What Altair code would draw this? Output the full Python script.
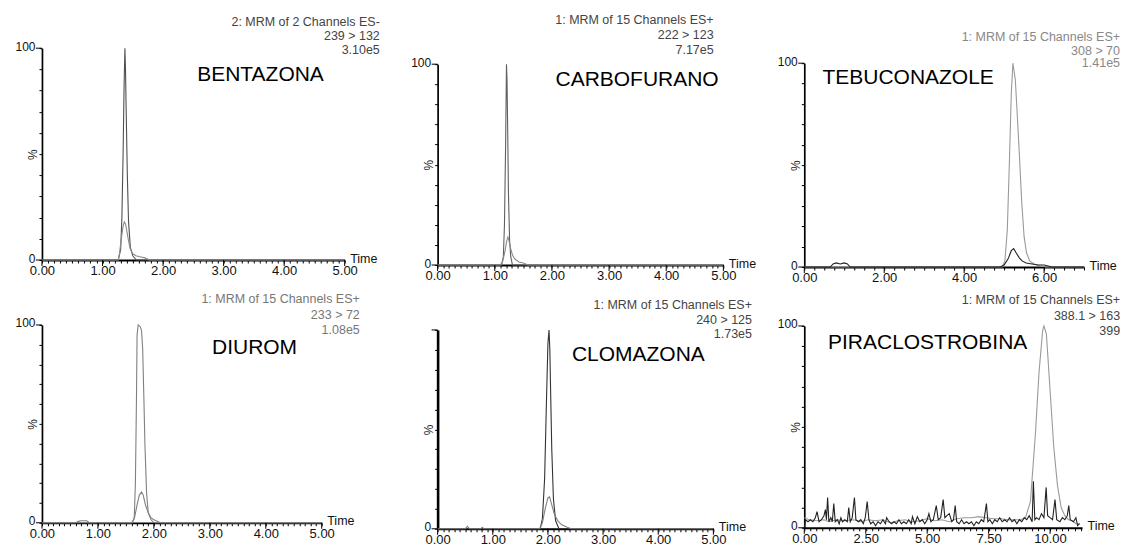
import altair as alt
import pandas as pd

FONT = "Liberation Sans"

# ---------------- BENTAZONA (239 > 132) ----------------
bent_t_a = [0, 1.26, 1.30, 1.32, 1.34, 1.355, 1.37, 1.38, 1.39, 1.41, 1.43, 1.46, 1.50, 1.56, 5.0]
bent_i_a = [0, 0, 5, 20, 50, 80, 100, 90, 72, 40, 18, 6, 2, 0, 0]
bent_t_b = [0, 1.26, 1.28, 1.31, 1.34, 1.36, 1.38, 1.40, 1.43, 1.46, 1.50, 1.55, 1.62, 1.70, 1.78, 5.0]
bent_i_b = [0, 0, 3, 10, 16, 18, 17, 14, 9, 5, 3, 2, 1.5, 1, 0, 0]
bent_major = [0, 1, 2, 3, 4, 5]

# ---------------- CARBOFURANO (222 > 123) ----------------
carb_t_a = [0, 1.12, 1.15, 1.17, 1.19, 1.205, 1.215, 1.225, 1.24, 1.26, 1.28, 1.31, 5.0]
carb_i_a = [0, 0, 4, 20, 60, 100, 92, 70, 35, 12, 4, 0, 0]
carb_t_b = [0, 1.10, 1.14, 1.18, 1.21, 1.23, 1.25, 1.28, 1.31, 1.35, 1.42, 1.50, 1.58, 5.0]
carb_i_b = [0, 0, 2, 7, 12, 14, 12, 8, 5, 3, 1.5, 1, 0, 0]
carb_major = [0, 1, 2, 3, 4, 5]

# ---------------- TEBUCONAZOLE (308 > 70) ----------------
tebu_t_a = [0, 4.95, 5.02, 5.08, 5.13, 5.18, 5.22, 5.25, 5.28, 5.32, 5.38, 5.44, 5.50, 5.56, 5.64, 5.75, 5.90, 6.05, 7.0]
tebu_i_a = [0, 0, 3, 18, 50, 85, 100, 96, 92, 78, 56, 32, 15, 7, 3, 1.5, 0.5, 0, 0]
tebu_t_b = [0, 0.65, 0.72, 0.80, 0.90, 1.00, 1.08, 1.15, 4.90, 5.00, 5.10, 5.18, 5.24, 5.30, 5.38, 5.45,
            5.55, 5.70, 5.85, 6.00, 6.10, 6.20, 7.0]
tebu_i_b = [0, 0, 1.5, 2, 1.5, 2, 1.5, 0, 0, 1, 4, 8, 9, 7, 4.5, 3, 2, 1.5, 1, 1, 0.5, 0, 0]
tebu_major = [0, 2, 4, 6]

# ---------------- DIUROM (233 > 72) ----------------
diur_t_a = [0, 1.62, 1.65, 1.67, 1.69, 1.70, 1.72, 1.76, 1.78, 1.80, 1.82, 1.84, 1.87, 1.90, 1.95, 2.00, 5.0]
diur_i_a = [0, 0, 3, 20, 65, 95, 100, 99, 97, 88, 65, 40, 15, 5, 1.5, 0, 0]
diur_t_b = [0, 0.60, 0.65, 0.70, 0.80, 0.85, 1.60, 1.65, 1.70, 1.74, 1.78, 1.81, 1.85, 1.90, 1.95, 2.00,
            2.06, 2.12, 5.0]
diur_i_b = [0, 0, 0.7, 1, 1, 0, 0, 2, 9, 14, 15.5, 14, 9, 5, 2.5, 1.5, 0.8, 0, 0]
diur_major = [0, 1, 2, 3, 4, 5]

# ---------------- CLOMAZONA (240 > 125) ----------------
clom_t_a = [0, 1.86, 1.90, 1.94, 1.97, 2.00, 2.02, 2.035, 2.05, 2.07, 2.10, 2.14, 2.20, 5.0]
clom_i_a = [0, 0, 5, 25, 60, 93, 100, 90, 68, 40, 15, 4, 0, 0]
clom_t_b = [0, 0.50, 0.54, 0.58, 0.78, 0.81, 0.84, 1.85, 1.90, 1.95, 2.00, 2.03, 2.07, 2.12, 2.18, 2.25,
            2.33, 2.42, 5.0]
clom_i_b = [0, 0, 1.2, 0, 0, 0.8, 0, 0, 3, 10, 15.5, 16, 12, 7, 4, 2, 1, 0, 0]
clom_major = [0, 1, 2, 3, 4, 5]

# ---------------- PIRACLOSTROBINA (388.1 > 163) ----------------
pira_t_a = [0.0, 0.2, 0.5, 0.8, 1.0, 1.3, 1.6, 2.0, 2.3, 2.6, 2.9, 3.2, 3.5, 3.8, 4.1, 4.4, 4.7, 5.0,
            5.3, 5.6, 5.9, 6.2, 6.5, 6.8, 7.1, 7.4, 7.7, 8.0, 8.3, 8.6, 8.8, 9.0, 9.2, 9.4, 9.55,
            9.7, 9.75, 9.85, 10.0, 10.15, 10.3, 10.45, 10.6, 10.75, 10.9, 11.05, 11.2]
pira_i_a = [5, 4, 3.5, 4, 3, 4, 3.5, 4, 3, 4, 3.5, 4, 2.5, 3.5, 4, 3, 3.5, 4.5,
            3.5, 4, 3, 4.5, 5, 5, 5.5, 5, 4.5, 4.5, 4, 4, 4, 5, 13, 46, 77,
            98, 100, 96, 68, 40, 21, 10, 6, 4, 3.5, 2, 2]
pira_t_b = [0.00, 0.05, 0.15, 0.25, 0.35, 0.45, 0.52, 0.60, 0.70, 0.80, 0.86, 0.90, 0.95, 1.00, 1.08,
            1.14, 1.20, 1.26, 1.35, 1.42, 1.49, 1.55, 1.65, 1.75, 1.81, 1.87, 1.95, 2.04, 2.10, 2.20,
            2.30, 2.40, 2.48, 2.56, 2.63, 2.70, 2.80, 2.90, 3.00, 3.10, 3.20, 3.30, 3.35, 3.45, 3.55,
            3.65, 3.75, 3.85, 3.95, 4.05, 4.15, 4.25, 4.35, 4.40, 4.50, 4.60, 4.70, 4.80, 4.90, 5.00,
            5.07, 5.15, 5.25, 5.37, 5.45, 5.55, 5.65, 5.72, 5.80, 5.90, 6.00, 6.07, 6.14, 6.20, 6.30,
            6.40, 6.50, 6.60, 6.70, 6.80, 6.90, 7.00, 7.10, 7.20, 7.30, 7.41, 7.47, 7.55, 7.65, 7.75,
            7.85, 7.95, 8.05, 8.15, 8.25, 8.35, 8.45, 8.55, 8.65, 8.75, 8.85, 8.95, 9.05, 9.15, 9.27,
            9.32, 9.38, 9.45, 9.55, 9.65, 9.75, 9.84, 9.90, 10.00, 10.10, 10.20, 10.27, 10.40, 10.50,
            10.60, 10.70, 10.76, 10.82, 10.95, 11.05, 11.12, 11.20]
pira_i_b = [0, 4, 3, 4, 3, 5, 8, 3, 4, 6, 9, 4, 15, 3, 5,
            3, 12, 3, 4, 2, 5, 3, 4, 3, 10, 3, 5, 15, 4, 3,
            4, 2, 5, 13, 4, 2, 3, 1, 3, 2, 4, 2, 5, 3, 2,
            3, 2, 4, 2, 3, 2, 4, 2, 5.5, 2, 5.5, 3, 4, 2, 4,
            7, 3, 4, 11, 4, 5, 14, 5, 6, 7, 3, 4, 11, 3, 2,
            4, 2, 3, 2, 3, 1, 3, 2, 4, 3, 12, 3, 4, 2, 4,
            3, 5, 3, 4, 3, 5, 3, 4, 2, 4, 3, 5, 4, 6, 3,
            23, 4, 5, 4, 7, 5, 20, 6, 5, 4, 14, 4, 3, 5,
            4, 6, 11, 4, 3, 5, 1, 2]
pira_major = [0, 2.5, 5, 7.5, 10]

# Header text of each chromatogram (function, transition, intensity)
bent_head = ["2: MRM of 2 Channels ES-", "239 > 132", "3.10e5"]
carb_head = ["1: MRM of 15 Channels ES+", "222 > 123", "7.17e5"]
tebu_head = ["1: MRM of 15 Channels ES+", "308 > 70", "1.41e5"]
diur_head = ["1: MRM of 15 Channels ES+", "233 > 72", "1.08e5"]
clom_head = ["1: MRM of 15 Channels ES+", "240 > 125", "1.73e5"]
pira_head = ["1: MRM of 15 Channels ES+", "388.1 > 163", "399"]

# Cell geometry: cell width w, time axis length xw, cell height h, y range [h, top]
panels = [
    dict(name="BENTAZONA", ta=bent_t_a, ia=bent_i_a, tb=bent_t_b, ib=bent_i_b, head=bent_head,
         xmax=5.0, major=bent_major, minor=0.1, w=396, xw=303, h=212, top=0,
         head_x=5.58, head_y=[112.3, 105.7, 99.1], head_color="#444444",
         name_x=3.61, name_y=87.3, ca="#505050", cb="#8a8a8a", ylabels=True, ydw=1.7),
    dict(name="CARBOFURANO", ta=carb_t_a, ia=carb_i_a, tb=carb_t_b, ib=carb_i_b, head=carb_head,
         xmax=5.0, major=carb_major, minor=0.1, w=367, xw=286, h=217, top=16,
         head_x=4.83, head_y=[121.9, 114.4, 107.0], head_color="#444444",
         name_x=3.49, name_y=92.0, ca="#606060", cb="#8a8a8a", ylabels=True, ydw=1.7),
    dict(name="TEBUCONAZOLE", ta=tebu_t_a, ia=tebu_i_a, tb=tebu_t_b, ib=tebu_i_b, head=tebu_head,
         xmax=7.0, major=tebu_major, minor=0.25, w=280, xw=280, h=219, top=15,
         head_x=7.9, head_y=[112.7, 105.9, 100.0], head_color="#888888",
         name_x=2.6, name_y=92.6, ca="#9a9a9a", cb="#222222", ylabels=True, ydw=1.7),
    dict(name="DIUROM", ta=diur_t_a, ia=diur_i_a, tb=diur_t_b, ib=diur_i_b, head=diur_head,
         xmax=5.0, major=diur_major, minor=0.1, w=396, xw=280, h=198, top=0,
         head_x=5.68, head_y=[113.1, 105.1, 97.5], head_color="#777777",
         name_x=3.8, name_y=88.4, ca="#808080", cb="#808080", ylabels=True, ydw=1.7),
    dict(name="CLOMAZONA", ta=clom_t_a, ia=clom_i_a, tb=clom_t_b, ib=clom_i_b, head=clom_head,
         xmax=5.0, major=clom_major, minor=0.1, w=367, xw=276, h=204, top=5,
         head_x=5.7, head_y=[112.6, 105.0, 98.0], head_color="#444444",
         name_x=3.64, name_y=87.4, ca="#333333", cb="#808080", ylabels=False, ydw=2.6),
    dict(name="PIRACLOSTROBINA", ta=pira_t_a, ia=pira_i_a, tb=pira_t_b, ib=pira_i_b, head=pira_head,
         xmax=11.3, major=pira_major, minor=0.25, w=280, xw=278, h=203, top=1,
         head_x=12.85, head_y=[112.9, 105.0, 97.5], head_color="#444444",
         name_x=5.02, name_y=91.6, ca="#9a9a9a", cb="#222222", ylabels=True, ydw=1.7),
]

MAJOR_TICK_PX = 6


def build_panel(p):
    x_scale = alt.Scale(domain=[0, p["xmax"]], range=[0, p["xw"]], nice=False, zero=False)
    y_scale = alt.Scale(domain=[0, 100], range=[p["h"], p["top"]], nice=False, zero=False)

    n = int(round(p["xmax"] / p["minor"]))
    xticks = [round(k * p["minor"], 4) for k in range(n + 1)]
    majors = ",".join(str(v) for v in p["major"])
    is_major = f"indexof([{majors}], round(datum.value * 100) / 100) >= 0"

    x_axis = alt.Axis(
        values=xticks,
        labelExpr=f"{is_major} ? format(datum.value, '.2f') : ''",
        labelFont=FONT, labelFontSize=13, labelColor="#111111", labelPadding=2,
        labelFlush=False, labelOverlap=False,
        tickColor="black", tickWidth=1, tickSize=3,
        domainColor="black", domainWidth=1.8, grid=False,
        title="Time", titleFont=FONT, titleFontSize=12.5, titleFontWeight="normal",
        titleColor="#111111", titleX=p["xw"] + 5, titleY=-2, titleAngle=0,
        titleAlign="left", titleBaseline="middle",
    )
    if p["ylabels"]:
        ylab = "datum.value == 0 ? '0' : datum.value == 100 ? '100' : ''"
    else:
        ylab = "datum.value == 0 ? '0' : ''"
    y_axis = alt.Axis(
        values=list(range(0, 101, 10)),
        labelExpr=ylab, labelFont=FONT, labelFontSize=12, labelColor="#111111",
        labelPadding=4, labelOffset=-2, labelFlush=False, labelOverlap=False,
        tickColor="black", tickWidth=1, tickSize=3,
        domainColor="black", domainWidth=p["ydw"], grid=False,
        title="%", titleFont=FONT, titleFontSize=12, titleFontWeight="normal",
        titleColor="#222222", titleX=-9, titleY=(p["h"] + p["top"]) / 2,
        titleAngle=270, titleAlign="center", titleBaseline="middle",
    )

    def enc(base, **extra):
        return base.encode(
            x=alt.X("t:Q", scale=x_scale, axis=x_axis),
            y=alt.Y("i:Q", scale=y_scale, axis=y_axis),
            **extra,
        )

    def trace(t, i, color):
        df = pd.DataFrame({"t": t, "i": i})
        return enc(alt.Chart(df).mark_line(color=color, strokeWidth=1.1))

    # longer ticks at the labelled times, hanging below the time axis
    px_per_pct = (p["h"] - p["top"]) / 100.0
    px_per_min = p["xw"] / p["xmax"]
    drop = MAJOR_TICK_PX / px_per_pct
    xmaj_df = pd.DataFrame({"t": p["major"], "i": [0] * len(p["major"]),
                            "t2": p["major"], "i2": [-drop] * len(p["major"])})
    xmaj = enc(alt.Chart(xmaj_df).mark_rule(color="black", strokeWidth=1),
               x2="t2:Q", y2="i2:Q")
    # longer ticks at 0 and 100 % on the intensity axis
    ylev = [0, 100]
    reach = MAJOR_TICK_PX / px_per_min
    ymaj_df = pd.DataFrame({"t": [0, 0], "i": ylev, "t2": [-reach, -reach], "i2": ylev})
    ymaj = enc(alt.Chart(ymaj_df).mark_rule(color="black", strokeWidth=1),
               x2="t2:Q", y2="i2:Q")

    head_df = pd.DataFrame({"t": [p["head_x"]] * 3, "i": p["head_y"], "txt": p["head"]})
    head = enc(alt.Chart(head_df).mark_text(
        align="right", baseline="middle", font=FONT, fontSize=12.5, color=p["head_color"]
    ), text="txt:N")
    name_df = pd.DataFrame({"t": [p["name_x"]], "i": [p["name_y"]], "txt": [p["name"]]})
    name = enc(alt.Chart(name_df).mark_text(
        align="center", baseline="middle", font=FONT, fontSize=21, color="black"
    ), text="txt:N")

    return alt.layer(
        trace(p["ta"], p["ia"], p["ca"]),
        trace(p["tb"], p["ib"], p["cb"]),
        xmaj, ymaj, head, name,
    ).properties(width=p["w"], height=p["h"])


chart = alt.ConcatChart(
    concat=[build_panel(p) for p in panels],
    columns=3,
    spacing={"row": 58, "column": 0},
    bounds="flush",
    padding={"left": 14, "top": 13, "right": 0, "bottom": 0},
    background="white",
).configure_view(stroke=None)

chart.save("out.html", embed_options={"renderer": "svg", "actions": False})
